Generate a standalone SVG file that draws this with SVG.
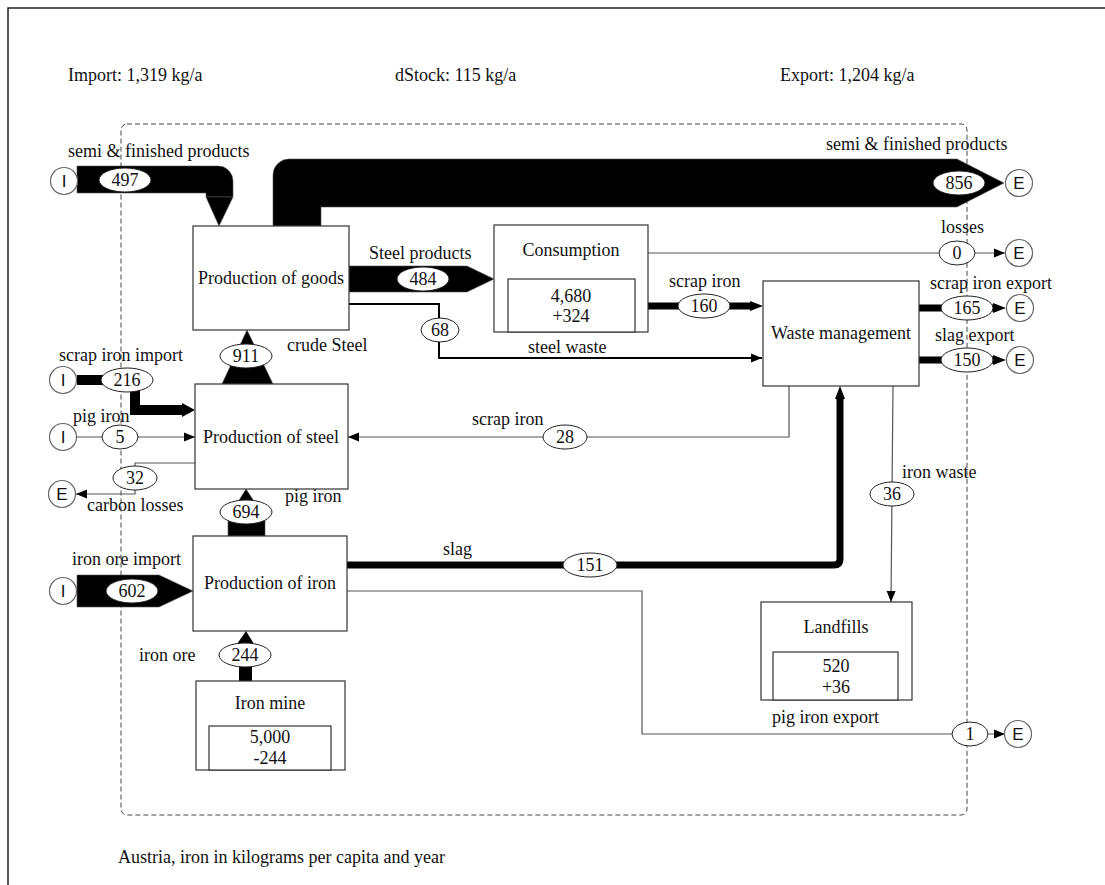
<svg xmlns="http://www.w3.org/2000/svg" width="1105" height="885" viewBox="0 0 1105 885">
<defs>
<style>
text{font-family:"Liberation Serif","Times New Roman",serif;font-size:18px;fill:#111}
.c{text-anchor:middle}
.box{fill:#fff;stroke:#333;stroke-width:1.2}
.ell{fill:#fff;stroke:#222;stroke-width:1}
.thin{fill:none;stroke:#555;stroke-width:1.2}
.blk{fill:#000;stroke:#555;stroke-width:0.6}
.bar{fill:none;stroke:#000}
.term{fill:#fff;stroke:#666;stroke-width:1.2}
.tl{font-family:"Liberation Sans",Arial,sans-serif;font-size:17px;text-anchor:middle}
</style>
<marker id="ah" markerUnits="userSpaceOnUse" markerWidth="12" markerHeight="10" refX="11" refY="5" orient="auto">
<path d="M0,0.5 L11,5 L0,9.5 z" fill="#000"/>
</marker>
</defs>
<rect x="0" y="0" width="1105" height="885" fill="#fff"/>
<path d="M8,885 V8 H1105" fill="none" stroke="#222" stroke-width="1.5"/>
<rect x="121" y="124" width="846" height="691" rx="6" fill="none" stroke="#444" stroke-width="1" stroke-dasharray="5,3"/>
<text x="68" y="81">Import: 1,319 kg/a</text>
<text x="395" y="81">dStock: 115 kg/a</text>
<text x="780" y="81">Export: 1,204 kg/a</text>
<text x="118" y="863">Austria, iron in kilograms per capita and year</text>

<g id="connectors">
<path class="blk" d="M77,166 H218 A15,15 0 0 1 233,181 V197 H206 V193 H77 Z"/>
<polygon class="blk" points="206,197 233,197 219,226"/>
<path class="blk" d="M273,226 V175 A16,16 0 0 1 289,159 H957 L1004,183 L957,207 H321 V226 Z"/>
<polygon class="blk" points="349,266 467,266 494,279 467,292 349,292"/>
<polygon class="blk" points="77,575 159,575 193,591 159,607 77,607"/>
<polygon class="blk" points="222,384 273,384 247,330"/>
<path class="blk" d="M228,536 V518 L246,489 L265,518 V536 Z"/>
<rect x="239" y="643" width="13" height="38" fill="#000"/>
<polygon points="237,644 254,644 246,631" fill="#000"/>
<path class="bar" stroke-width="10" d="M77,380 H135 V410 H184"/>
<polygon points="182,403 195,410 182,417" fill="#000"/>
<path class="bar" stroke-width="7" d="M648,306 H752"/>
<polygon points="750,301 763,306 750,311" fill="#000"/>
<path class="bar" stroke-width="7" d="M919,308 H995"/>
<polygon points="993,303 1006,308 993,313" fill="#000"/>
<path class="bar" stroke-width="7" d="M919,360 H995"/>
<polygon points="993,355 1006,360 993,365" fill="#000"/>
<path class="bar" stroke-width="7" d="M346,565 H834 Q840,565 840,559 V397"/>
<polygon points="835,399 840,386 845,399" fill="#000"/>
<path d="M349,304 H439 V358 H762" fill="none" stroke="#000" stroke-width="2" marker-end="url(#ah)"/>
<path class="thin" d="M648,253 H1005" marker-end="url(#ah)"/>
<path class="thin" d="M77,437 H195" marker-end="url(#ah)"/>
<path class="thin" d="M195,463 H135 V494 H76" marker-end="url(#ah)"/>
<path class="thin" d="M789,386 V437 H348" marker-end="url(#ah)"/>
<path class="thin" d="M893,386 L891,602" marker-end="url(#ah)"/>
<path class="thin" d="M347,591 H642 V734 H1005" marker-end="url(#ah)"/>

<text x="68" y="157">semi &amp; finished products</text>
<text x="826" y="150">semi &amp; finished products</text>
<text x="941" y="233">losses</text>
<text x="369" y="259">Steel products</text>
<text x="528" y="353">steel waste</text>
<text x="669" y="287">scrap iron</text>
<text x="930" y="289">scrap iron export</text>
<text x="935" y="341">slag export</text>
<text x="287" y="351">crude Steel</text>
<text x="59" y="361">scrap iron import</text>
<text x="73" y="422">pig iron</text>
<text x="87" y="511">carbon losses</text>
<text x="285" y="502">pig iron</text>
<text x="472" y="425">scrap iron</text>
<text x="443" y="555">slag</text>
<text x="902" y="478">iron waste</text>
<text x="72" y="565">iron ore import</text>
<text x="139" y="661">iron ore</text>
<text x="772" y="723">pig iron export</text>

<ellipse class="ell" cx="125" cy="180" rx="26" ry="12"/><text class="c" x="125" y="186">497</text>
<ellipse class="ell" cx="959" cy="183" rx="26" ry="12"/><text class="c" x="959" y="189">856</text>
<ellipse class="ell" cx="957" cy="253" rx="18" ry="12"/><text class="c" x="957" y="259">0</text>
<ellipse class="ell" cx="423" cy="279" rx="26" ry="12"/><text class="c" x="423" y="285">484</text>
<ellipse class="ell" cx="440" cy="330" rx="19" ry="12"/><text class="c" x="440" y="336">68</text>
<ellipse class="ell" cx="704" cy="306" rx="26" ry="12"/><text class="c" x="704" y="312">160</text>
<ellipse class="ell" cx="967" cy="308" rx="26" ry="12"/><text class="c" x="967" y="314">165</text>
<ellipse class="ell" cx="967" cy="360" rx="26" ry="12"/><text class="c" x="967" y="366">150</text>
<ellipse class="ell" cx="246" cy="356" rx="26" ry="12"/><text class="c" x="246" y="362">911</text>
<ellipse class="ell" cx="127" cy="380" rx="26" ry="12"/><text class="c" x="127" y="386">216</text>
<ellipse class="ell" cx="120" cy="437" rx="18" ry="12"/><text class="c" x="120" y="443">5</text>
<ellipse class="ell" cx="135" cy="478" rx="22" ry="12"/><text class="c" x="135" y="484">32</text>
<ellipse class="ell" cx="246" cy="512" rx="26" ry="12"/><text class="c" x="246" y="518">694</text>
<ellipse class="ell" cx="132" cy="591" rx="26" ry="12"/><text class="c" x="132" y="597">602</text>
<ellipse class="ell" cx="245" cy="655" rx="26" ry="12"/><text class="c" x="245" y="661">244</text>
<ellipse class="ell" cx="565" cy="437" rx="22" ry="12"/><text class="c" x="565" y="443">28</text>
<ellipse class="ell" cx="590" cy="565" rx="27" ry="12"/><text class="c" x="590" y="571">151</text>
<ellipse class="ell" cx="892" cy="494" rx="22" ry="12"/><text class="c" x="892" y="500">36</text>
<ellipse class="ell" cx="970" cy="734" rx="18" ry="12"/><text class="c" x="970" y="740">1</text>
</g>

<g id="import-semi"><circle class="term" cx="64" cy="181" r="13.5"/><text class="tl" x="64" y="187">I</text></g>
<g id="import-scrap"><circle class="term" cx="63" cy="380" r="13.5"/><text class="tl" x="63" y="386">I</text></g>
<g id="import-pig"><circle class="term" cx="63" cy="437" r="13.5"/><text class="tl" x="63" y="443">I</text></g>
<g id="import-ore"><circle class="term" cx="63" cy="591" r="13.5"/><text class="tl" x="63" y="597">I</text></g>
<g id="export-carbon"><circle class="term" cx="62" cy="494" r="13.5"/><text class="tl" x="62" y="500">E</text></g>
<g id="export-semi"><circle class="term" cx="1019" cy="183" r="13.5"/><text class="tl" x="1019" y="189">E</text></g>
<g id="export-losses"><circle class="term" cx="1019" cy="253" r="13.5"/><text class="tl" x="1019" y="259">E</text></g>
<g id="export-scrap"><circle class="term" cx="1020" cy="308" r="13.5"/><text class="tl" x="1020" y="314">E</text></g>
<g id="export-slag"><circle class="term" cx="1020" cy="360" r="13.5"/><text class="tl" x="1020" y="366">E</text></g>
<g id="export-pig"><circle class="term" cx="1018" cy="734" r="13.5"/><text class="tl" x="1018" y="740">E</text></g>

<g id="production-goods"><rect class="box" x="193" y="226" width="156" height="104"/><text class="c" x="271" y="284">Production of goods</text></g>
<g id="consumption"><rect class="box" x="494" y="225" width="154" height="107"/><text class="c" x="571" y="256">Consumption</text><rect class="box" x="508" y="279" width="127" height="53"/><text class="c" x="571" y="302">4,680</text><text class="c" x="571" y="322">+324</text></g>
<g id="waste-management"><rect class="box" x="763" y="281" width="156" height="105"/><text class="c" x="841" y="339">Waste management</text></g>
<g id="production-steel"><rect class="box" x="195" y="384" width="153" height="105"/><text class="c" x="271" y="443">Production of steel</text></g>
<g id="production-iron"><rect class="box" x="193" y="536" width="154" height="95"/><text class="c" x="270" y="589">Production of iron</text></g>
<g id="iron-mine"><rect class="box" x="196" y="681" width="149" height="89"/><text class="c" x="270" y="709">Iron mine</text><rect class="box" x="209" y="726" width="122" height="44"/><text class="c" x="270" y="743">5,000</text><text class="c" x="270" y="764">-244</text></g>
<g id="landfills"><rect class="box" x="761" y="602" width="151" height="98"/><text class="c" x="836" y="633">Landfills</text><rect class="box" x="773" y="652" width="125" height="48"/><text class="c" x="836" y="672">520</text><text class="c" x="836" y="693">+36</text></g>
</svg>
